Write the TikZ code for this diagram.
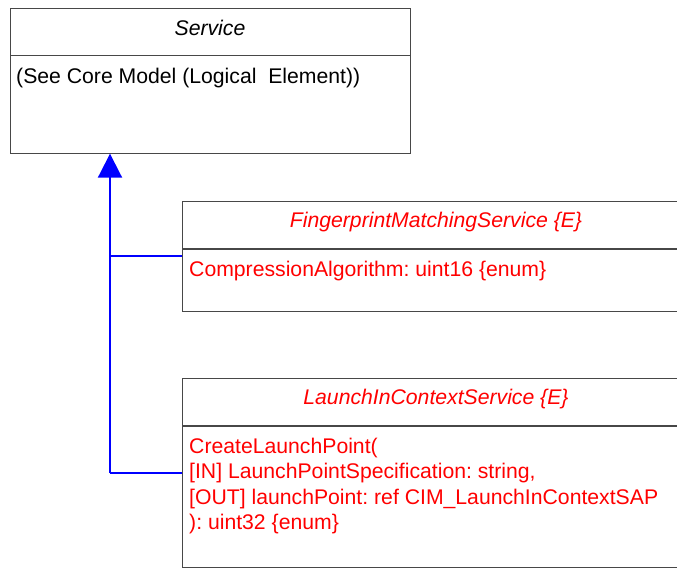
\documentclass[tikz,border=0pt]{standalone}
\usepackage{fontspec}
\setmainfont{Liberation Sans}
\usetikzlibrary{arrows.meta}
\frenchspacing
\begin{document}
\begin{tikzpicture}[x=1pt,y=-1pt,
  box/.style={draw=black!72, line width=1.2pt, inner sep=0pt, anchor=north west},
  divider/.style={draw=black!72, line width=1.2pt},
  conn/.style={draw=blue, line width=2pt},
  ttl/.style={font=\fontsize{21.2}{25}\selectfont\itshape, anchor=base, inner sep=0pt},
  txt/.style={font=\fontsize{21.2}{25}\selectfont\frenchspacing, anchor=base west, inner sep=0pt},
  red text/.style={text=red}]
\useasboundingbox (0,0) rectangle (677,568);
\clip (0,0) rectangle (677,568);
% Service
\node[box, minimum width=400pt, minimum height=145pt] (svc) at (10,7.5) {};
\draw[divider] (10,55.5) -- (410,55.5);
\node[ttl] (svct) at (210,35) {Service};
\node[txt] (svcb) at (16,83) {(See Core Model (Logical\ \ Element))};
% FingerprintMatchingService
\node[box, minimum width=508pt, minimum height=110pt] (fms) at (182,201) {};
\draw[divider] (182,249) -- (690,249);
\node[ttl, red text] (fmst) at (436,227) {FingerprintMatchingService \{E\}};
\node[txt, red text] (fmsb) at (189,276) {CompressionAlgorithm: uint16 \{enum\}};
% LaunchInContextService
\node[box, minimum width=508pt, minimum height=189pt] (lic) at (182,378) {};
\draw[divider] (182,426) -- (690,426);
\node[ttl, red text] (lict) at (436,404) {LaunchInContextService \{E\}};
\node[txt, red text] (licb1) at (189,453) {CreateLaunchPoint(};
\node[txt, red text] (licb2) at (189,478.5) {[IN] LaunchPointSpecification: string,};
\node[txt, red text] (licb3) at (189,504) {[OUT] launchPoint: ref CIM\_LaunchInContextSAP};
\node[txt, red text] (licb4) at (189,529.5) {): uint32 \{enum\}};
% inheritance connectors
\coordinate (j1) at (110,256);
\coordinate (j2) at (110,473);
\draw[conn] (fms.west |- j1) -- (j1);
\draw[conn] (lic.west |- j2) -- (j2);
\draw[conn, -{Triangle[width=24pt,length=24pt]}] (j2) -- (svc.south -| j2);
\end{tikzpicture}
\end{document}
